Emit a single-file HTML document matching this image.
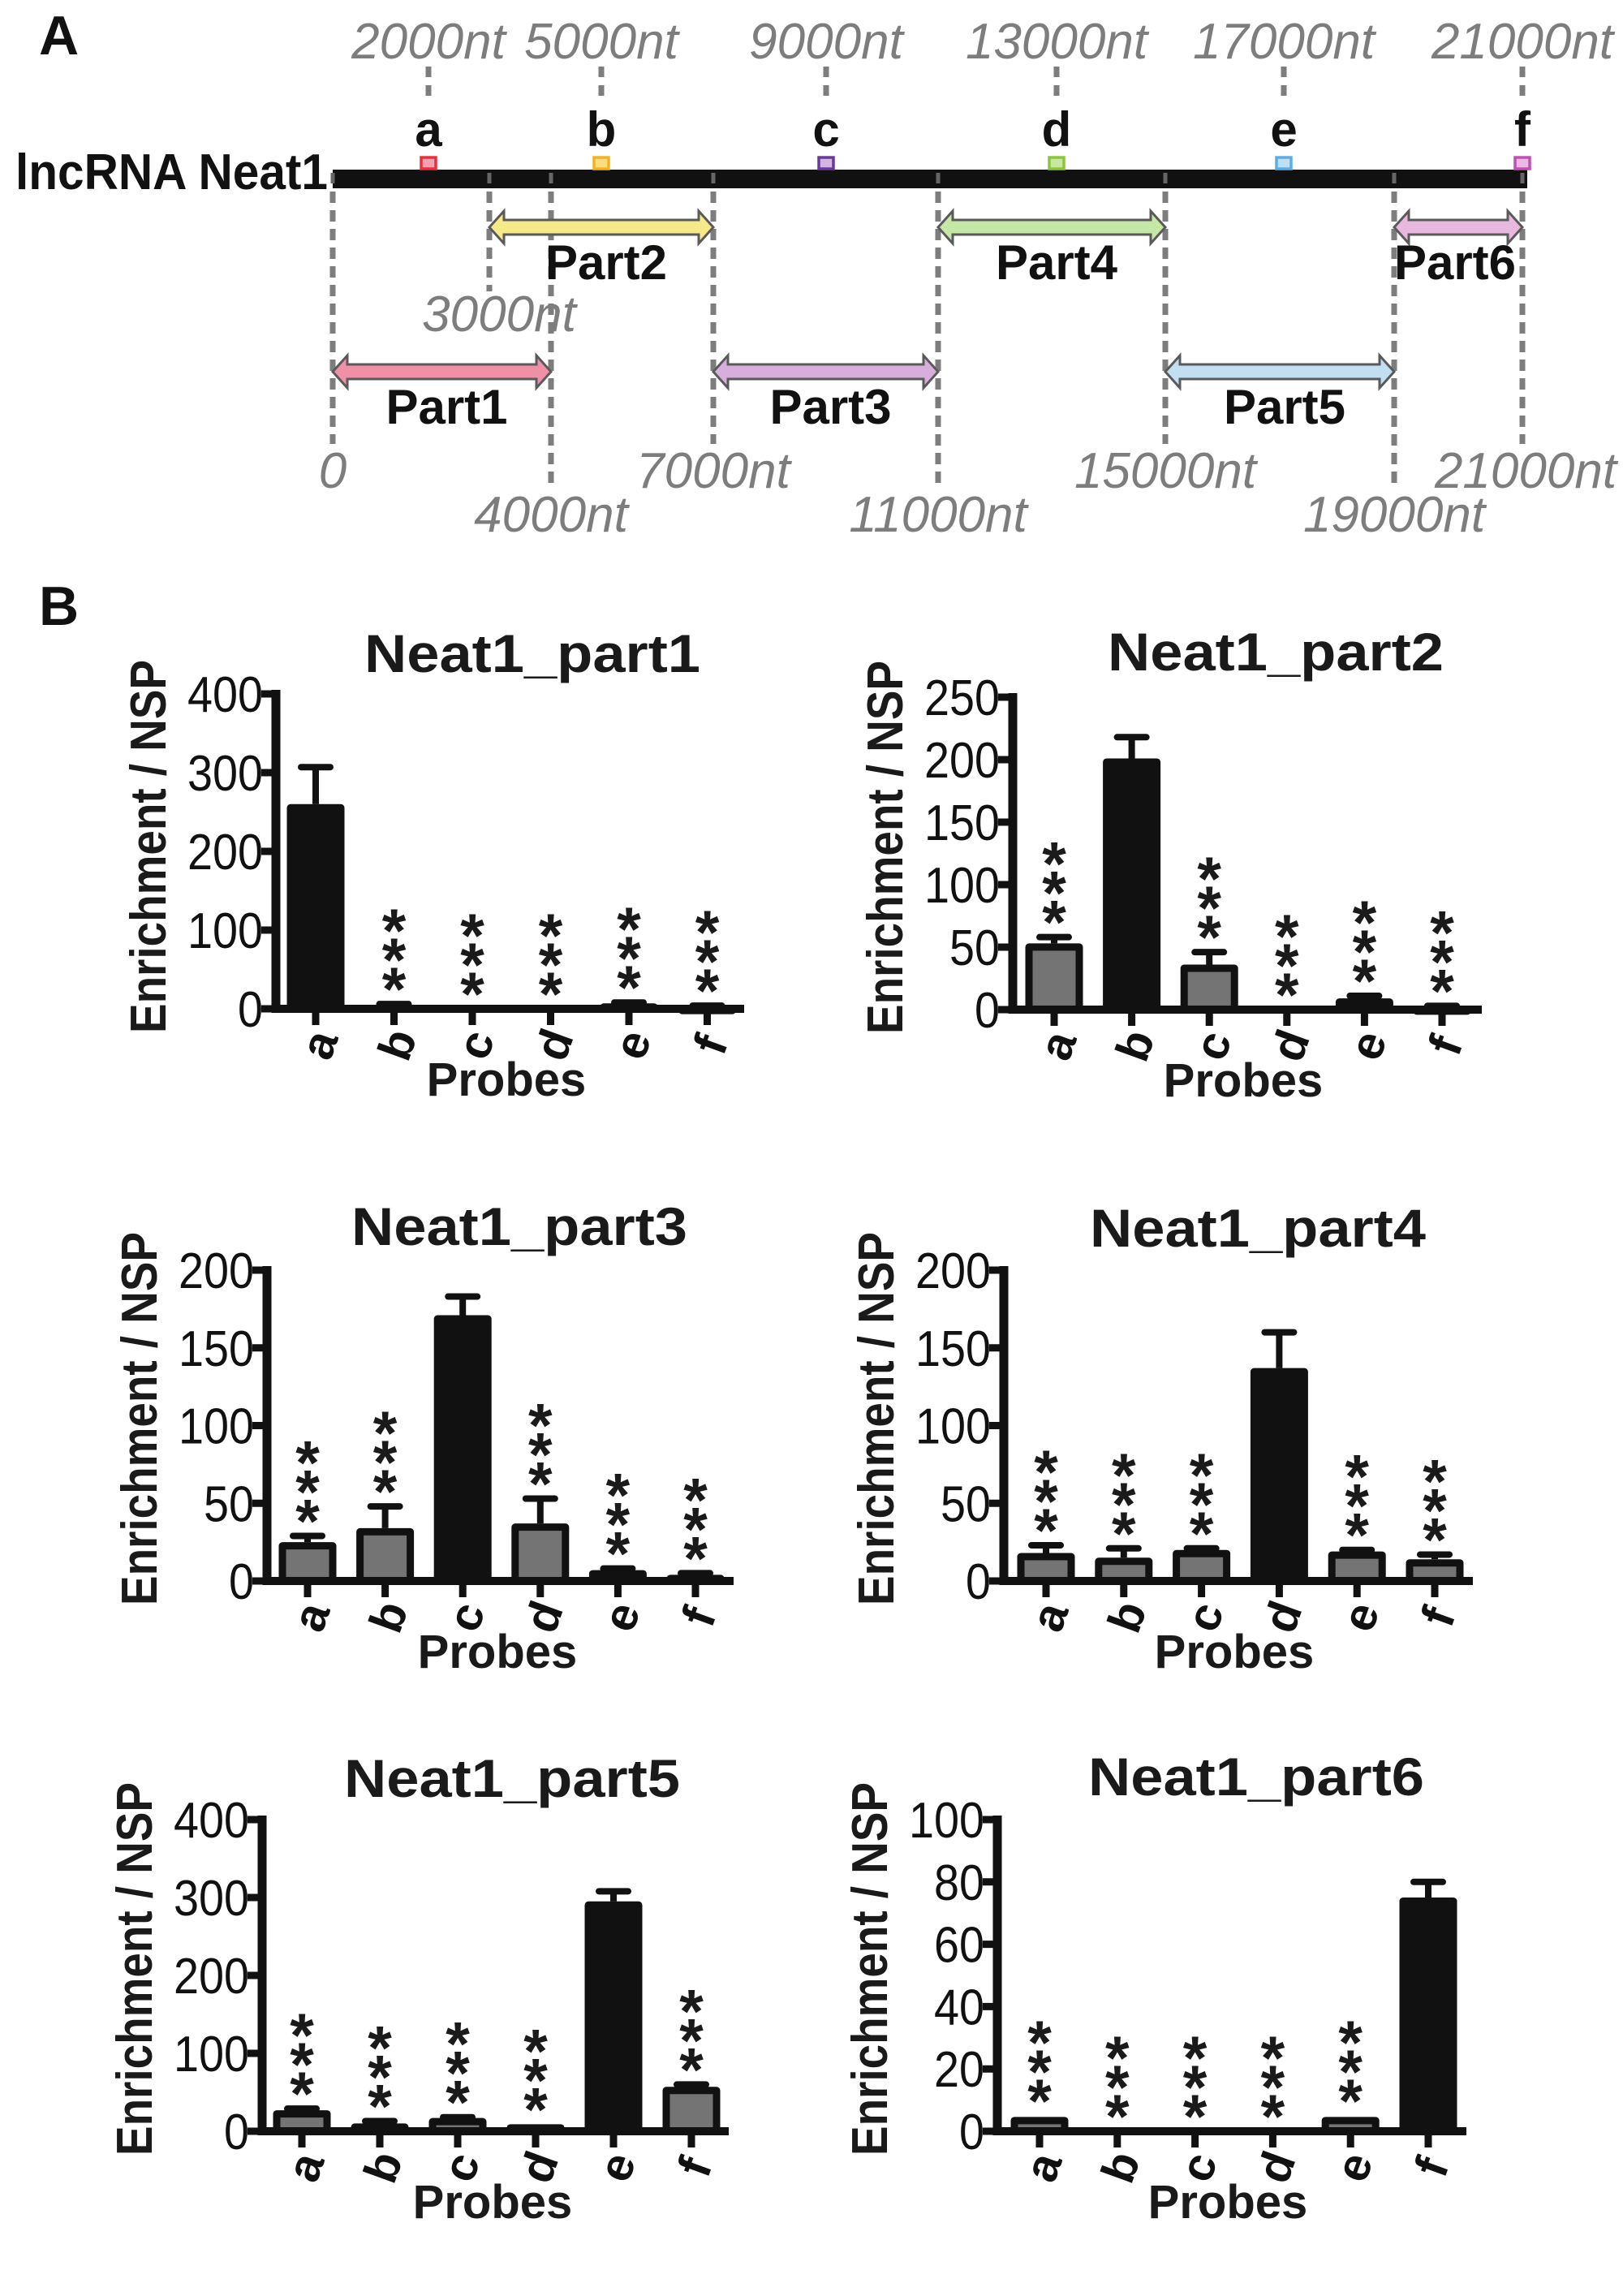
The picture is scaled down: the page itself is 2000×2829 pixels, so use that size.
<!DOCTYPE html>
<html><head><meta charset="utf-8"><title>Neat1 probes</title>
<style>
html,body{margin:0;padding:0;background:#fff;}
svg{display:block;font-family:"Liberation Sans",sans-serif;}
</style></head>
<body>
<svg id="fig" width="2000" height="2829" viewBox="0 0 2000 2829" xmlns="http://www.w3.org/2000/svg">
<g id="panelA">
  <text x="48" y="67" font-size="68" font-weight="bold" fill="#111">A</text>
  <text x="19" y="233" font-size="62" font-weight="bold" fill="#111" textLength="385" lengthAdjust="spacingAndGlyphs">lncRNA Neat1</text>
</g>
<g id="panelB">
  <text x="48" y="770" font-size="68" font-weight="bold" fill="#111">B</text>
</g>
</svg>
<script>
// ===== Data =====
const categories = ['a','b','c','d','e','f'];
const part1Values = [260, 5, 0, 0, 7, 3];
const part1Errors = [307, 6, 0, 0, 8, 4];
const part1Ticks = [0, 100, 200, 300, 400];
const part2Values = [53, 201, 36, 0, 9, 2];
const part2Errors = [58, 218, 46, 0, 11, 3];
const part2Ticks = [0, 50, 100, 150, 200, 250];
const part3Values = [25, 34, 171, 37, 7, 4];
const part3Errors = [29, 48, 183, 53, 8, 5];
const part3Ticks = [0, 50, 100, 150, 200];
const part4Values = [18, 15, 20, 137, 19, 14];
const part4Errors = [23, 21, 21, 160, 20, 17];
const part4Ticks = [0, 50, 100, 150, 200];
const part5Values = [27, 10, 17, 9, 295, 57];
const part5Errors = [29, 13, 18, 9, 308, 60];
const part5Ticks = [0, 100, 200, 300, 400];
const part6Values = [4.6, 0, 0, 0, 4.6, 75];
const part6Errors = [5, 0, 0, 0, 5, 80];
const part6Ticks = [0, 20, 40, 60, 80, 100];
const chartTitles = ['Neat1_part1','Neat1_part2','Neat1_part3','Neat1_part4','Neat1_part5','Neat1_part6'];

// Panel A data (nt positions)
const probeNames = ['a','b','c','d','e','f'];
const probeNt = [2000, 5000, 9000, 13000, 17000, 21000];
const partNames = ['Part1','Part2','Part3','Part4','Part5','Part6'];
const partStartNt = [0, 3000, 7000, 11000, 15000, 19000];
const partEndNt = [4000, 7000, 11000, 15000, 19000, 21000];

const NS = 'http://www.w3.org/2000/svg';
function mk(tag, attrs, parent){ const e=document.createElementNS(NS,tag); for(const k in attrs) e.setAttribute(k,attrs[k]); parent.appendChild(e); return e; }

// ===== Panel A =====
const gA = document.getElementById('panelA');
const ntKnots = [0,2000,3000,4000,5000,7000,9000,11000,13000,15000,17000,19000,21000];
const pxKnots = [410,528,603,679,741,879,1018,1156,1302,1436,1582,1718,1876];
function ntX(nt){ for(let i=1;i<ntKnots.length;i++){ if(nt<=ntKnots[i]){ const t=(nt-ntKnots[i-1])/(ntKnots[i]-ntKnots[i-1]); return pxKnots[i-1]+t*(pxKnots[i]-pxKnots[i-1]); } } return pxKnots[pxKnots.length-1]; }
const probeColors = ['#e8303a','#f2b320','#6a3a98','#8cc63e','#5aaee2','#c44fb4'];
const probeFills = ['#f3a0b0','#f8de80','#d4b4e0','#c8e8a0','#c0def4','#ecb8e4'];
const partColors = ['#ef90a6','#f6e98a','#d8aedc','#c6e8a6','#c2dff2','#e8b8e0'];
const gray = '#7d7d7d';

probeNt.forEach((nt,i)=>{
  const x = ntX(nt);
  const l = mk('line',{x1:x,y1:82,x2:x,y2:118,stroke:gray,'stroke-width':7,'stroke-dasharray':'13 10'},gA);
  
  
  const t = mk('text',{x:x,y:72,'text-anchor':'middle','font-size':62,'font-style':'italic',fill:gray},gA);
  t.textContent = nt+'nt';
  
  
  const L = mk('text',{x:x,y:180,'text-anchor':'middle','font-size':60,'font-weight':'bold',fill:'#111'},gA);
  L.textContent = probeNames[i];
  
  
});
const bar = mk('rect',{x:410,y:209,width:1472,height:23,fill:'#111'},gA);


probeNt.forEach((nt,i)=>{
  const x = ntX(nt);
  const s = mk('rect',{x:x-9,y:194,width:18,height:14,fill:probeFills[i],stroke:probeColors[i],'stroke-width':3.5},gA);
  
  
});
const boundNt = [0,3000,4000,7000,11000,15000,19000,21000];
const boundEnd = [547,359,603,547,603,547,603,547];
boundNt.forEach((nt,i)=>{
  const x = ntX(nt);
  const d = mk('line',{x1:x,y1:236,x2:x,y2:boundEnd[i],stroke:gray,'stroke-width':7,'stroke-dasharray':'14 9'},gA);
  
  
  const tk = mk('line',{x1:x,y1:213,x2:x,y2:226,stroke:'#666','stroke-width':5},gA);
  
  
});
const bLabels = [
  {nt:0,txt:'0',y:601,anchor:'middle'},
  {nt:3000,txt:'3000nt',y:408,anchor:'middle',dx:12},
  {nt:4000,txt:'4000nt',y:655,anchor:'middle'},
  {nt:7000,txt:'7000nt',y:601,anchor:'middle'},
  {nt:11000,txt:'11000nt',y:655,anchor:'middle'},
  {nt:15000,txt:'15000nt',y:601,anchor:'middle'},
  {nt:19000,txt:'19000nt',y:655,anchor:'middle'},
  {nt:21000,txt:'21000nt',y:601,anchor:'middle',dx:4}
];
bLabels.forEach(b=>{
  const t = mk('text',{x:ntX(b.nt)+(b.dx||0),y:b.y,'text-anchor':b.anchor,'font-size':62,'font-style':'italic',fill:gray},gA);
  t.textContent = b.txt;
  
  
});
partNames.forEach((p,i)=>{
  const x1 = ntX(partStartNt[i]), x2 = ntX(partEndNt[i]);
  const cy = (i%2===0) ? 458 : 280;
  const hs = 9, hh = 20, hl = 18;
  const d = `M${x1},${cy} L${x1+hl},${cy-hh} L${x1+hl},${cy-hs} L${x2-hl},${cy-hs} L${x2-hl},${cy-hh} L${x2},${cy} L${x2-hl},${cy+hh} L${x2-hl},${cy+hs} L${x1+hl},${cy+hs} L${x1+hl},${cy+hh} Z`;
  const a = mk('path',{d:d,fill:partColors[i],stroke:'#5a5a5a','stroke-width':3,'stroke-linejoin':'miter'},gA);
  
  
  const t = mk('text',{x:(x1+x2)/2+ (i===5?-4:6),y:cy+64,'text-anchor':'middle','font-size':60,'font-weight':'bold',fill:'#111',textLength:150,lengthAdjust:'spacingAndGlyphs'},gA);
  t.textContent = p;
  
  
});

// ===== Panel B charts =====
const gB = document.getElementById('panelB');
const chartValues = [part1Values,part2Values,part3Values,part4Values,part5Values,part6Values];
const chartErrors = [part1Errors,part2Errors,part3Errors,part4Errors,part5Errors,part6Errors];
const chartTicks = [part1Ticks,part2Ticks,part3Ticks,part4Ticks,part5Ticks,part6Ticks];
const layouts = [
  {ax:340,y0:1243,yTop:855,xEnd:917,first:49,sp:96.5,tx:656,ty:828},
  {ax:1248,y0:1244,yTop:859,xEnd:1826,first:51,sp:95.6,tx:1572,ty:826},
  {ax:329,y0:1948,yTop:1565,xEnd:904,first:50,sp:95.6,tx:640,ty:1534},
  {ax:1237,y0:1948,yTop:1565,xEnd:1815,first:52,sp:95.8,tx:1550,ty:1536},
  {ax:323,y0:2626,yTop:2242,xEnd:898,first:49,sp:96,tx:631,ty:2214},
  {ax:1229,y0:2626,yTop:2242,xEnd:1807,first:52,sp:95.8,tx:1548,ty:2212}
];

layouts.forEach((L,ci)=>{
  const vals = chartValues[ci], errs = chartErrors[ci], ticks = chartTicks[ci];
  const yMax = ticks[ticks.length-1];
  const yS = v => L.y0 - (v/yMax)*(L.y0-L.yTop);
  const xS = i => L.ax + L.first + i*L.sp;
  let hi = 0; vals.forEach((v,i)=>{ if(v>vals[hi]) hi=i; });
  const g = mk('g',{},gB);
  
  

  const title = mk('text',{x:L.tx,y:L.ty,'text-anchor':'middle','font-size':66,'font-weight':'bold',fill:'#1a1a1a',textLength:414,lengthAdjust:'spacingAndGlyphs'},g);
  title.textContent = chartTitles[ci];
  
  

  const yl = mk('text',{x:0,y:0,'text-anchor':'middle','font-size':62,'font-weight':'bold',fill:'#1a1a1a',textLength:460,lengthAdjust:'spacingAndGlyphs',transform:`translate(${L.ax-136},${L.y0-200}) rotate(-90)`},g);
  yl.textContent = 'Enrichment / NSP';
  
  

  const xl = mk('text',{x:L.ax+284,y:L.y0+107,'text-anchor':'middle','font-size':58,'font-weight':'bold',fill:'#1a1a1a'},g);
  xl.textContent = 'Probes';
  
  

  vals.forEach((v,i)=>{
    const top = yS(v);
    const h = L.y0 - top;
    if(h > 1){
      const r = mk('rect',{x:xS(i)-31,y:top+4.5,width:62,height:Math.max(h-4.5,0.5),fill:(i===hi?'#111':'#747474'),stroke:'#111','stroke-width':9,'stroke-linejoin':'round'},g);
      
      
    }
    const e = errs[i];
    if(e > v + 0.5){
      const ey = yS(e);
      const el = mk('line',{x1:xS(i),y1:top,x2:xS(i),y2:ey,stroke:'#111','stroke-width':8},g);
      
      
      const cap = mk('line',{x1:xS(i)-18,y1:ey,x2:xS(i)+18,y2:ey,stroke:'#111','stroke-width':8,'stroke-linecap':'round'},g);
      
      
    }
    if(i !== hi){
      const base = Math.min(yS(Math.max(e,v)), L.y0) - 36;
      for(let k=0;k<3;k++){
        const cy = base - k*36;
        const st = mk('text',{x:xS(i),y:cy+44,'text-anchor':'middle','font-size':76,'font-weight':'bold',fill:'#1a1a1a'},g);
        st.textContent = '*';
        
        
      }
    }
    const xt = mk('line',{x1:xS(i),y1:L.y0,x2:xS(i),y2:L.y0+20,stroke:'#111','stroke-width':9},g);
    
    
    const lab = mk('text',{x:0,y:0,'text-anchor':'middle','font-size':58,'font-weight':'bold',fill:'#111',transform:`translate(${xS(i)+4},${L.y0+44}) rotate(-70) translate(0,20)`},g);
    lab.textContent = categories[i];
    
    
  });

  const ya = mk('line',{x1:L.ax,y1:L.yTop-5,x2:L.ax,y2:L.y0+5,stroke:'#111','stroke-width':11},g);
  
  
  const xa = mk('line',{x1:L.ax-5,y1:L.y0,x2:L.xEnd,y2:L.y0,stroke:'#111','stroke-width':10},g);
  
  
  ticks.forEach(t=>{
    const y = yS(t);
    const tl = mk('line',{x1:L.ax-18,y1:y,x2:L.ax,y2:y,stroke:'#111','stroke-width':9},g);
    
    
    const tt = mk('text',{x:L.ax-16,y:y+22,'text-anchor':'end','font-size':62,fill:'#111',textLength:String(t).length*31,lengthAdjust:'spacingAndGlyphs'},g);
    tt.textContent = String(t);
    
    
  });
});
</script>
</body></html>
